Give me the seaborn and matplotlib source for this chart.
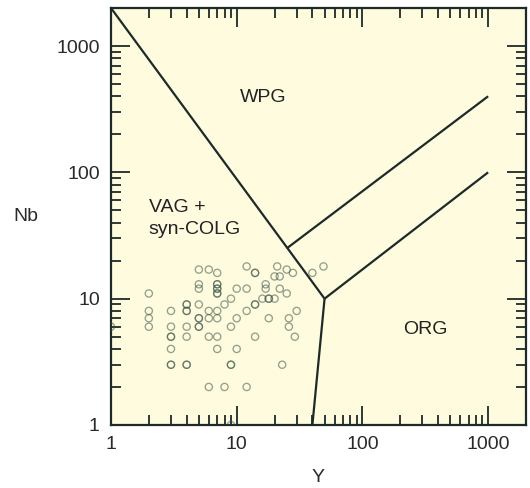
import matplotlib
matplotlib.use("Agg")
import matplotlib.pyplot as plt
from matplotlib.ticker import LogLocator, FuncFormatter, NullFormatter
import numpy as np
import pandas as pd
import seaborn as sns

# Sample analyses (ppm): Y on the x axis, Nb on the y axis
y_ppm = [1, 2, 2, 2, 2, 3, 3, 3, 3, 3, 3, 3, 4, 4, 4, 4, 4, 4, 4, 4,
         5, 5, 5, 5, 5, 5, 5, 5, 6, 6, 6, 6, 6, 7, 7, 7, 7, 7, 7, 7,
         7, 7, 7, 7, 8, 8, 9, 9, 9, 9, 10, 10, 10, 12, 12, 12, 12,
         14, 14, 14, 14, 14, 16, 17, 17, 18, 18, 18, 20, 20, 21, 22, 22,
         23, 25, 25, 26, 26, 28, 29, 30, 40, 49, 9]
nb_ppm = [6, 11, 8, 7, 6, 8, 6, 5, 5, 4, 3, 3, 9, 9, 8, 6, 5, 3, 8, 3,
          17, 13, 12, 9, 7, 7, 6, 6, 17, 8, 7, 5, 2, 16, 13, 13, 12, 12,
          11, 11, 8, 7, 5, 4, 9, 2, 10, 6, 3, 3, 12, 7, 4, 18, 8, 2, 12,
          16, 16, 9, 9, 5, 10, 13, 12, 10, 7, 10, 15, 10, 18, 15, 12,
          3, 17, 11, 7, 6, 16, 5, 8, 16, 18, 1]

# Field boundaries (Y, Nb)
syn_vag_wpg_y = [1, 50]
syn_vag_wpg_nb = [2000, 10]
org_upper_y = [25, 1000]
org_upper_nb = [25, 400]
org_lower_y = [50, 1000]
org_lower_nb = [10, 100]
vag_org_y = [50, 40]
vag_org_nb = [10, 1]

# Field names and label anchors
field_names = ["WPG", "VAG +", "syn-COLG", "ORG"]
field_y = [16.2, 2.0, 2.0, 315]
field_nb = [388, 53, 35, 5.65]
field_ha = ["center", "left", "left", "center"]

x_ticks = [1, 10, 100, 1000]
y_ticks = [1, 10, 100, 1000]

sns.set_style("ticks")
plt.rcParams["font.family"] = ["Liberation Sans", "DejaVu Sans"]

ink = "#1d2a28"
fig = plt.figure(figsize=(5.3, 4.88), dpi=100)
ax = fig.add_axes([0.2094, 0.1291, 0.783, 0.8545])
ax.set_facecolor("#fefbdf")

df = pd.DataFrame({"Y": y_ppm, "Nb": nb_ppm})
sns.scatterplot(data=df, x="Y", y="Nb", ax=ax, marker="o", s=27,
                facecolors="none", edgecolor="#3e5648", linewidth=0.95,
                alpha=0.55, zorder=3)

for xs, ys in [(syn_vag_wpg_y, syn_vag_wpg_nb), (org_upper_y, org_upper_nb),
               (org_lower_y, org_lower_nb), (vag_org_y, vag_org_nb)]:
    ax.plot(xs, ys, color=ink, lw=1.6, solid_capstyle="butt", zorder=4)

for name, xv, yv, ha in zip(field_names, field_y, field_nb, field_ha):
    ax.text(xv, yv, name, ha=ha, va="center", fontsize=14, color="#222222")

ax.set_xscale("log")
ax.set_yscale("log")
ax.set_xlim(1, 2000)
ax.set_ylim(1, 2000)

fmt = FuncFormatter(lambda v, p: f"{int(round(v))}")
ax.xaxis.set_major_locator(LogLocator(base=10))
ax.yaxis.set_major_locator(LogLocator(base=10))
ax.xaxis.set_major_formatter(fmt)
ax.yaxis.set_major_formatter(fmt)
ax.xaxis.set_minor_locator(LogLocator(base=10, subs=np.arange(2, 10)))
ax.yaxis.set_minor_locator(LogLocator(base=10, subs=np.arange(2, 10)))
ax.xaxis.set_minor_formatter(NullFormatter())
ax.yaxis.set_minor_formatter(NullFormatter())
ax.set_xticks(x_ticks)
ax.set_yticks(y_ticks)

ax.tick_params(which="both", direction="in", top=True, right=True,
               color=ink, width=1.3)
ax.tick_params(which="major", length=14, pad=8, labelsize=14,
               labelcolor="#2a2a2a")
ax.tick_params(which="minor", length=7)
for sp in ax.spines.values():
    sp.set_color(ink)
    sp.set_linewidth(1.6)

ax.set_xlabel("Y", fontsize=14, color="#2a2a2a")
ax.set_ylabel("Nb", fontsize=14, color="#2a2a2a", rotation=0)
ax.xaxis.set_label_coords(0.5, -0.125)
ax.yaxis.set_label_coords(-0.205, 0.5)
ax.xaxis.label.set_va("center")
ax.yaxis.label.set_va("center")
ax.yaxis.label.set_ha("center")

fig.savefig("out.png", dpi=100, facecolor="white")
